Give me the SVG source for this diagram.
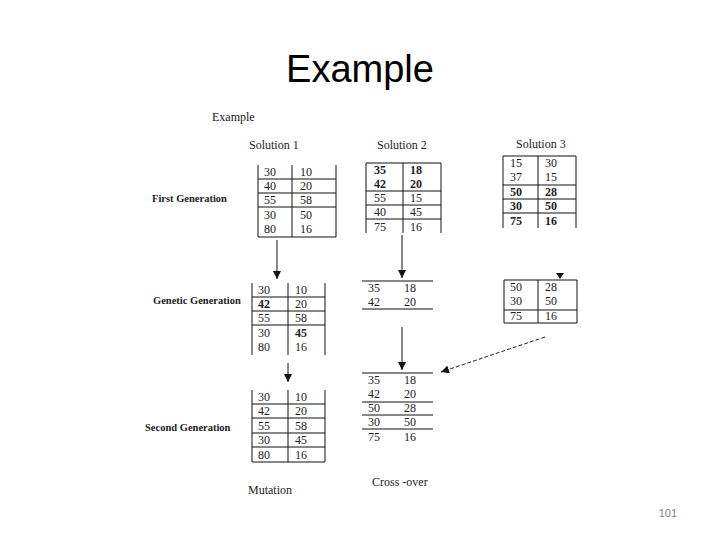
<svg xmlns="http://www.w3.org/2000/svg" width="720" height="540" viewBox="0 0 720 540">
<style>
.title{font-family:"Liberation Sans",Arial,sans-serif;font-size:38px;fill:#000}
.pg{font-family:"Liberation Sans",Arial,sans-serif;font-size:11px;fill:#7f7f7f}
.hd{font-family:"Liberation Serif","Times New Roman",serif;font-size:12px;fill:#222}
.lb{font-family:"Liberation Serif","Times New Roman",serif;font-size:10.5px;font-weight:bold;fill:#222}
.n{font-family:"Liberation Serif","Times New Roman",serif;font-size:12px;fill:#222}
.b{font-weight:bold}
.ln{stroke:#111;stroke-width:1;fill:none}
.cn{stroke:#111;stroke-width:1;fill:none}
.ds{stroke:#222;stroke-width:1;fill:none;stroke-dasharray:4,2}
</style>
<defs>
<marker id="ah" markerUnits="userSpaceOnUse" markerWidth="8" markerHeight="8" viewBox="0 0 8 8" refX="8" refY="4" orient="auto">
<path d="M0,0 L8,4 L0,8 Z" fill="#111"/>
</marker>
</defs>
<rect width="720" height="540" fill="#fff"/>
<text class="title" x="360" y="82" text-anchor="middle">Example</text>
<text class="pg" x="677" y="517" text-anchor="end">101</text>

<g id="headers">
<text class="hd" x="212" y="121">Example</text>
<text class="hd" x="249" y="149">Solution 1</text>
<text class="hd" x="377" y="149">Solution 2</text>
<text class="hd" x="516" y="148">Solution 3</text>
<text class="lb" x="152" y="202">First Generation</text>
<text class="lb" x="153" y="304">Genetic Generation</text>
<text class="lb" x="145" y="431">Second Generation</text>
<text class="hd" x="248" y="494">Mutation</text>
<text class="hd" x="372" y="486">Cross -over</text>
</g>

<g id="sol1-first">
<path class="ln" d="M258,165 V237 M292,165 V237 M336,165 V237 M258,179 H336 M258,193 H336 M258,207 H336 M258,237 H336"/>
<g class="n">
<text x="264" y="176">30</text><text x="300" y="176">10</text>
<text x="264" y="190">40</text><text x="300" y="190">20</text>
<text x="264" y="204">55</text><text x="300" y="204">58</text>
<text x="264" y="219">30</text><text x="300" y="219">50</text>
<text x="264" y="233">80</text><text x="300" y="233">16</text>
</g>
</g>

<g id="sol2-first">
<path class="ln" d="M366,163 V233 M403,163 V233 M441,163 V233 M366,163 H441 M366,191 H441 M366,205 H441 M366,219 H441"/>
<g class="n">
<text class="b" x="374" y="174">35</text><text class="b" x="410" y="174">18</text>
<text class="b" x="374" y="188">42</text><text class="b" x="410" y="188">20</text>
<text x="374" y="202">55</text><text x="410" y="202">15</text>
<text x="374" y="216">40</text><text x="410" y="216">45</text>
<text x="374" y="231">75</text><text x="410" y="231">16</text>
</g>
</g>

<g id="sol3-first">
<path class="ln" d="M503,156 V228 M538,156 V228 M576,156 V228 M503,156 H576 M503,185 H576 M503,199 H576 M503,213 H576"/>
<g class="n">
<text x="510" y="167">15</text><text x="545" y="167">30</text>
<text x="510" y="181">37</text><text x="545" y="181">15</text>
<text class="b" x="510" y="196">50</text><text class="b" x="545" y="196">28</text>
<text class="b" x="510" y="210">30</text><text class="b" x="545" y="210">50</text>
<text class="b" x="510" y="225">75</text><text class="b" x="545" y="225">16</text>
</g>
</g>

<g id="sol1-genetic">
<path class="ln" d="M252,283 V355 M288,283 V355 M325,283 V355 M252,297 H325 M252,311 H325 M252,325 H325"/>
<g class="n">
<text x="258" y="294">30</text><text x="295" y="294">10</text>
<text class="b" x="258" y="308">42</text><text x="295" y="308">20</text>
<text x="258" y="322">55</text><text x="295" y="322">58</text>
<text x="258" y="337">30</text><text class="b" x="295" y="337">45</text>
<text x="258" y="351">80</text><text x="295" y="351">16</text>
</g>
</g>

<g id="sol2-genetic">
<path class="ln" d="M362,281 H433 M362,309 H433"/>
<g class="n">
<text x="368" y="292">35</text><text x="404" y="292">18</text>
<text x="368" y="306">42</text><text x="404" y="306">20</text>
</g>
</g>

<g id="sol3-genetic">
<path class="ln" d="M504,280 H577 V323 H504 Z M538,280 V323 M504,310 H577"/>
<g class="n">
<text x="510" y="291">50</text><text x="545" y="291">28</text>
<text x="510" y="305">30</text><text x="545" y="305">50</text>
<text x="510" y="320">75</text><text x="545" y="320">16</text>
</g>
</g>

<g id="sol1-second">
<path class="ln" d="M252,390 V462 M288,390 V462 M325,390 V462 M252,404 H325 M252,418 H325 M252,433 H325 M252,447 H325 M252,462 H325"/>
<g class="n">
<text x="258" y="401">30</text><text x="295" y="401">10</text>
<text x="258" y="415">42</text><text x="295" y="415">20</text>
<text x="258" y="430">55</text><text x="295" y="430">58</text>
<text x="258" y="444">30</text><text x="295" y="444">45</text>
<text x="258" y="459">80</text><text x="295" y="459">16</text>
</g>
</g>

<g id="crossover-result">
<path class="ln" d="M362,373 H433 M362,402 H433 M362,415 H433 M362,429 H433"/>
<g class="n">
<text x="368" y="384">35</text><text x="404" y="384">18</text>
<text x="368" y="398">42</text><text x="404" y="398">20</text>
<text x="368" y="412">50</text><text x="404" y="412">28</text>
<text x="368" y="426">30</text><text x="404" y="426">50</text>
<text x="368" y="441">75</text><text x="404" y="441">16</text>
</g>
</g>

<g id="connectors">
<path class="cn" d="M277,240 V279" marker-end="url(#ah)"/>
<path class="cn" d="M288,363 V382" marker-end="url(#ah)"/>
<path class="cn" d="M402,235 V278" marker-end="url(#ah)"/>
<path class="cn" d="M402,327 V370" marker-end="url(#ah)"/>
<path class="ds" d="M545,337 L441,372" marker-end="url(#ah)"/>
<path d="M556,273 L564,273 L560,279 Z" fill="#111"/>
</g>
</svg>
